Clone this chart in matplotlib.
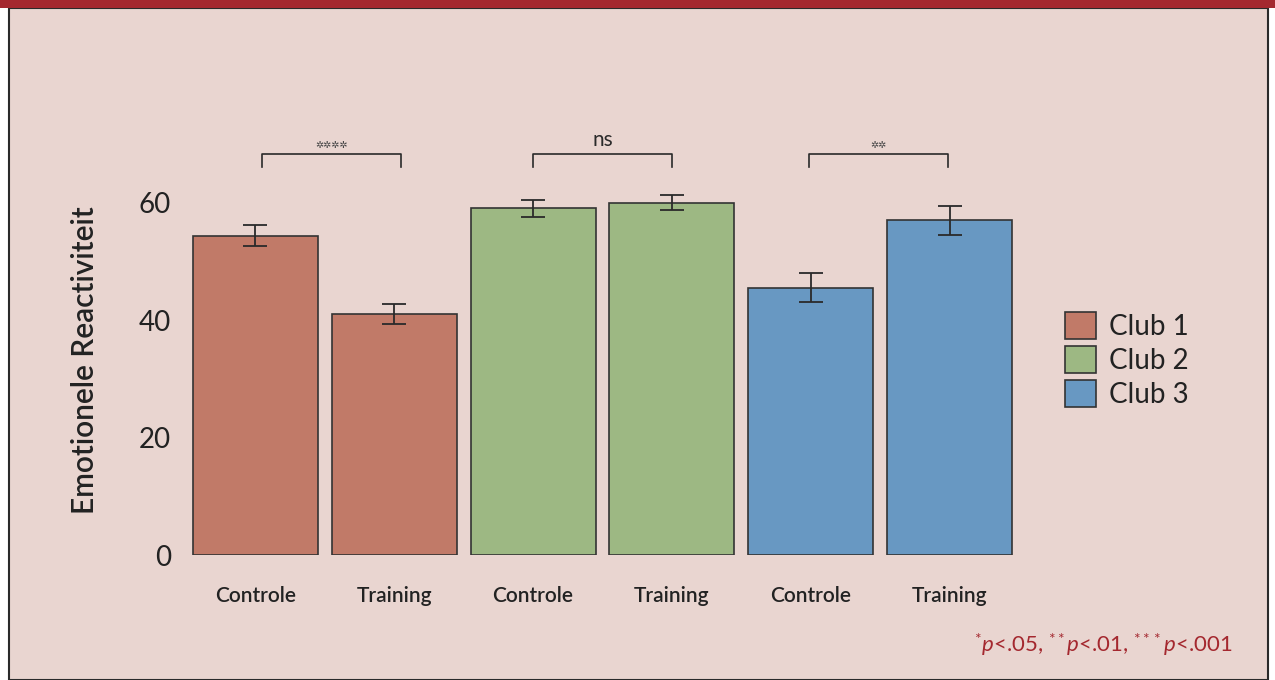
import numpy as np
import matplotlib
matplotlib.use("Agg")
import matplotlib.pyplot as plt
from matplotlib.patches import Rectangle, Patch

# Data
groups = ["Club 1", "Club 2", "Club 3"]
conditions = ["Controle", "Training", "Controle", "Training", "Controle", "Training"]
means = [54.35, 41.1, 59.0, 60.0, 45.5, 57.0]
errors = [1.8, 1.7, 1.5, 1.3, 2.45, 2.45]
bar_group = [0, 0, 1, 1, 2, 2]
signif = ["****", "ns", "**"]

colors = ["#C17A68", "#9DB883", "#6898C2"]
bg = "#E9D5D0"
red = "#A4282F"

plt.rcParams['font.family'] = ['Lato', 'DejaVu Sans']
plt.rcParams['mathtext.fontset'] = 'custom'
plt.rcParams['mathtext.rm'] = 'Lato'
plt.rcParams['mathtext.it'] = 'Lato:italic'

fig = plt.figure(figsize=(12.75, 6.8), dpi=100)
W, H = 1275, 680

# frame
fig.patches.append(Rectangle((9 / W, 0), 1259 / W, 672 / H, transform=fig.transFigure,
                             facecolor=bg, edgecolor="#2a2a2a", linewidth=1.5, zorder=0))
fig.patches.append(Rectangle((0, 672 / H), 1, 8 / H, transform=fig.transFigure,
                             facecolor=red, edgecolor="none", zorder=1))

ax = fig.add_axes([179.1 / W, 0.1838, 846.8 / W, 0.648])
ax.set_zorder(5)
ax.set_facecolor("none")

x = np.arange(len(means))
ax.bar(x, means, width=0.9, color=[colors[g] for g in bar_group],
       edgecolor="#333333", linewidth=1.2, zorder=2)
ax.errorbar(x, means, yerr=errors, fmt="none", ecolor="#2a2a2a",
            elinewidth=1.3, capsize=8.3, capthick=1.3, zorder=3)

# significance brackets
shift = [0.05, 0.0, -0.01]
for i, s in enumerate(signif):
    x1, x2 = x[2 * i] + shift[i], x[2 * i + 1] + shift[i]
    ax.plot([x1, x1, x2, x2], [66.0, 68.3, 68.3, 66.0], color="#2a2a2a", lw=1.2,
            clip_on=False)
    if s == "ns":
        ax.text((x1 + x2) / 2, 68.9, s, ha="center", va="bottom", fontsize=15,
                color="#2a2a2a")
    else:
        ax.text((x1 + x2) / 2, 68.9, "✲" * len(s), ha="center", va="bottom",
                fontsize=7, color="#444444", family=["DejaVu Sans"])

ax.set_xlim(-0.55, 5.55)
ax.set_ylim(0, 75)
ax.set_yticks([0, 20, 40, 60])
ax.set_yticklabels(["0", "20", "40", "60"], fontsize=20, color="#222222")
ax.set_xticks(x)
ax.set_xticklabels(conditions, fontsize=15, color="#222222", fontweight="semibold")
ax.tick_params(axis="both", length=0)
ax.tick_params(axis="y", pad=6)
ax.tick_params(axis="x", pad=22)
for sp in ax.spines.values():
    sp.set_visible(False)
ax.set_ylabel("Emotionele Reactiviteit", fontsize=21.5, fontweight="semibold",
              color="#222222")
ax.yaxis.set_label_coords(-0.095, 0.442)

handles = [Patch(facecolor=c, edgecolor="#333333", linewidth=1.2) for c in colors]
leg = fig.legend(handles, groups, loc="center left", bbox_to_anchor=(1040 / W, 1 - 360 / H),
                 frameon=False, fontsize=20, handlelength=1.1, handleheight=1.1,
                 labelspacing=0.22, handletextpad=0.5, labelcolor="#222222")
leg.set_zorder(6)

fig.text(1233 / W, 1 - 645 / H,
         r"$^{*}\mathit{p}$<.05, $^{**}\mathit{p}$<.01, $^{***}\mathit{p}$<.001",
         ha="right", va="center", fontsize=16, color=red, zorder=6)

fig.savefig("out.png", dpi=100, facecolor="white")
